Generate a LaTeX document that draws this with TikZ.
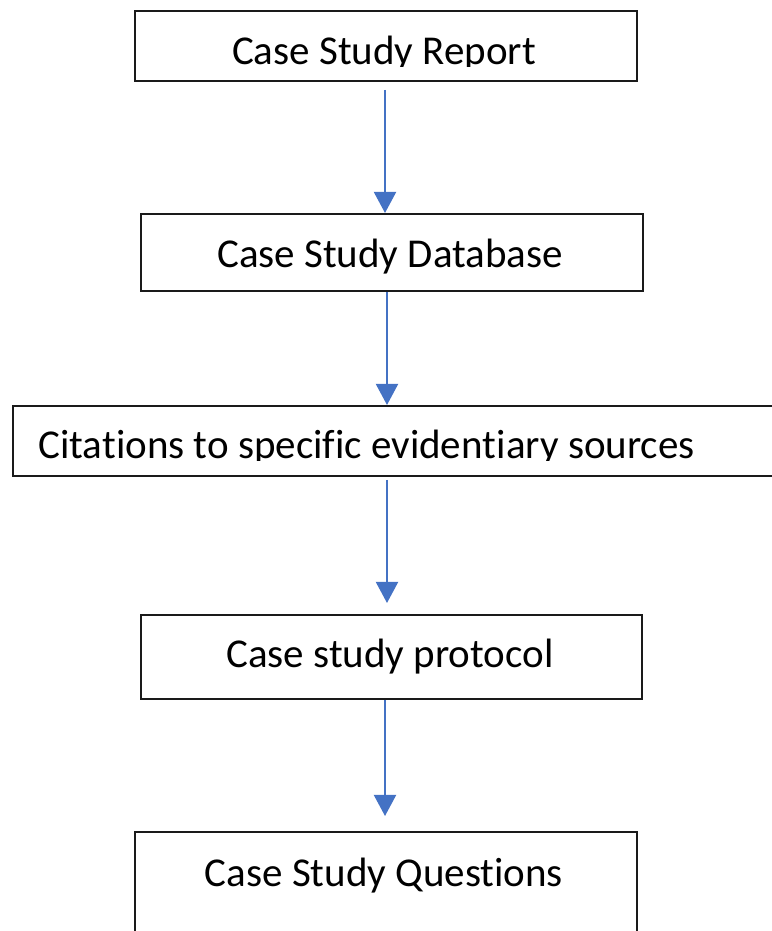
\documentclass[tikz,border=0pt]{standalone}
\usepackage{fontspec}
\setmainfont{Carlito}[Ligatures={NoCommon,NoContextual},RawFeature={-liga;-clig;-dlig}]
\usetikzlibrary{arrows.meta}
\definecolor{flowblue}{HTML}{4472C4}
\definecolor{boxline}{HTML}{1A1A1A}
\tikzset{
  stagebox/.style={draw=boxline, line width=2pt, inner sep=0pt, anchor=south west},
  stagetext/.style={inner sep=0pt, text=black, font=\fontsize{41}{48}\selectfont},
  flow/.style={draw=flowblue, line width=2pt,
    -{Triangle[length=21pt,width=22pt]}}
}
\begin{document}
\begin{tikzpicture}[x=1pt,y=1pt]
  \useasboundingbox (0,0) rectangle (771,931);

  % frames of the five stages
  \node[stagebox, minimum width=502pt, minimum height=70pt]  (report)    at (134,849) {};
  \node[stagebox, minimum width=502pt, minimum height=77pt]  (database)  at (140,639) {};
  \node[stagebox, minimum width=775pt, minimum height=70pt]  (citations) at (12,454)  {};
  \node[stagebox, minimum width=501pt, minimum height=84pt]  (protocol)  at (140,231) {};
  \node[stagebox, minimum width=502pt, minimum height=110pt] (questions) at (134,-12) {};

  % labels; the first and third are cut off just under the baseline
  \begin{scope}
    \clip (0,864) rectangle (771,931);
    \node[stagetext, anchor=base] (reportlbl) at (384,866) {Case Study Report};
  \end{scope}
  \node[stagetext, anchor=base] (databaselbl) at (390,663) {Case Study Database};
  \begin{scope}
    \clip (0,470) rectangle (771,520);
    \node[stagetext, anchor=base west] (citationslbl) at (38,472) {Cita\kern0pt tions to speci\kern0pt fic eviden\kern0pt tiary sources};
  \end{scope}
  \node[stagetext, anchor=base] (protocollbl) at (390,263) {Case study protocol};
  \node[stagetext, anchor=base] (questionslbl) at (384,44) {Case Study Questions};

  % connectors
  \draw[flow, shorten <=8pt] (report.south -| 385,0) -- (database.north -| 385,0);
  \draw[flow] (database.south -| 387,0) -- (citations.north -| 387,0);
  \draw[flow, shorten <=3pt, shorten >=11pt] (citations.south -| 387,0) -- (protocol.north -| 387,0);
  \draw[flow, shorten >=15pt] (protocol.south -| 385,0) -- (questions.north -| 385,0);
\end{tikzpicture}
\end{document}
